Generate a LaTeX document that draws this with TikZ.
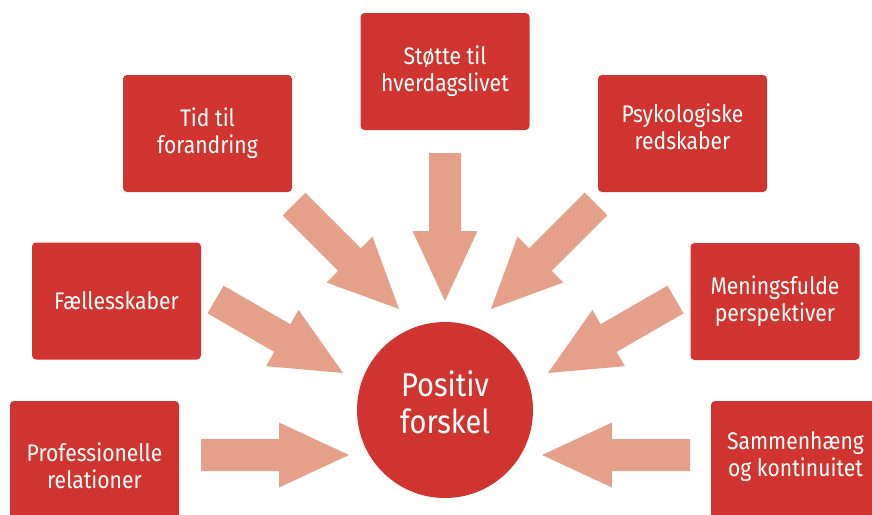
\documentclass[tikz,border=0pt]{standalone}
\usepackage{fontspec}
\setmainfont{Fira Sans}[FakeStretch=0.88]
\usepackage{tikz}
\usetikzlibrary{calc}

\definecolor{boxred}{RGB}{208,52,48}
\definecolor{arrowpink}{RGB}{229,160,138}

% fat block arrow from #1 (back end) to #2 (tip)
\newcommand{\fatarrow}[2]{%
  \coordinate (hb) at ($(#2)!70pt!(#1)$);
  \fill[arrowpink] ($(#1)!16pt!90:(#2)$) -- ($(hb)!16pt!90:(#2)$) -- ($(hb)!32.5pt!90:(#2)$)
    -- (#2) -- ($(hb)!32.5pt!-90:(#2)$) -- ($(hb)!16pt!-90:(#2)$) -- ($(#1)!16pt!-90:(#2)$) -- cycle;
}

\begin{document}
\begin{tikzpicture}[
            x=1pt, y=-1pt,
            block/.style={rectangle, fill=boxred, rounded corners=4pt, minimum width=169pt,
                minimum height=117pt, text=white, align=center,
                font=\fontsize{24}{27}\selectfont},
            hub/.style={circle, fill=boxred, minimum size=176pt, text=white, align=center,
                font=\fontsize{33}{37}\selectfont}
        ]
        \useasboundingbox (0,0) rectangle (872,514);

        % Blocks
        \node[block] (stoette) at (445,71.5) {Støtte til\\hverdagslivet};
        \node[block] (tid) at (207.5,133.5) {Tid til\\forandring};
        \node[block, text depth=13pt] (psyk) at (682.5,133.5) {Psykologiske\\redskaber};
        \node[block] (faelles) at (116.5,301) {Fællesskaber};
        \node[block] (mening) at (775,301.5) {Meningsfulde\\perspektiver};
        % bottom row runs off the page
        \node[block, minimum height=130pt] (prof) at (94.5,466) {Professionelle\\relationer};
        \node[block, minimum height=130pt, text depth=23pt] (samm) at (795.5,466) {Sammenhæng\\og kontinuitet};

        % centre
        \node[hub, text depth=15pt] (forskel) at (445,410) {Positiv\\forskel};

        % arrow ends
        \coordinate (stoette-s) at (445,153);
        \coordinate (stoette-t) at (445,301);
        \coordinate (tid-s) at (294,204);
        \coordinate (tid-t) at (399,309);
        \coordinate (psyk-s) at (596,204);
        \coordinate (psyk-t) at (491,309);
        \coordinate (faelles-s) at (215.5,299.5);
        \coordinate (faelles-t) at (343,373);
        \coordinate (mening-s) at (675.5,299.5);
        \coordinate (mening-t) at (548,373);
        \coordinate (prof-s) at (201,455);
        \coordinate (prof-t) at (349,455);
        \coordinate (samm-s) at (690,455);
        \coordinate (samm-t) at (542,455);

        \fatarrow{stoette-s}{stoette-t}
        \fatarrow{tid-s}{tid-t}
        \fatarrow{psyk-s}{psyk-t}
        \fatarrow{faelles-s}{faelles-t}
        \fatarrow{mening-s}{mening-t}
        \fatarrow{prof-s}{prof-t}
        \fatarrow{samm-s}{samm-t}

    \end{tikzpicture}
\end{document}
